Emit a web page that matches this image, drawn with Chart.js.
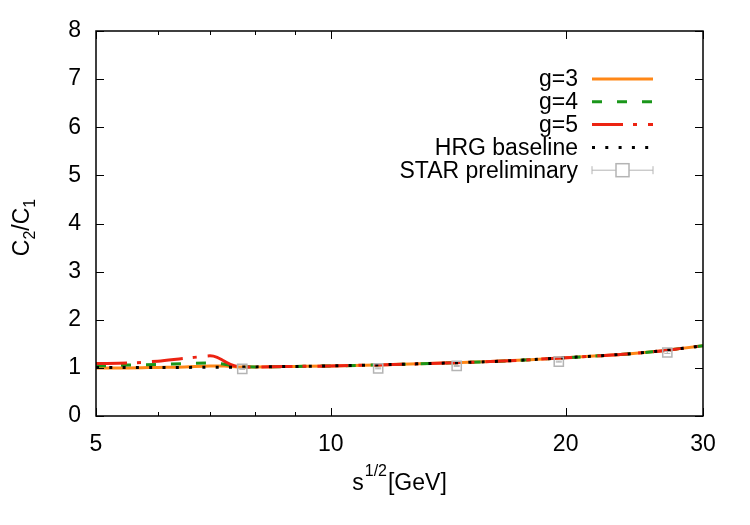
<!DOCTYPE html>
<html>
<head>
<meta charset="utf-8">
<script src="https://cdn.jsdelivr.net/npm/chart.js@4.4.1/dist/chart.umd.min.js"></script>
<style>
  html, body { margin: 0; padding: 0; background: #fff; }
  #wrap { width: 750px; height: 525px; }
</style>
</head>
<body>
<div id="wrap"><canvas id="c2c1" width="750" height="525"></canvas></div>
<script>
// Curve data (sqrt(s) in GeV, C2/C1)
const hrgX = [5, 5.5, 6, 6.5, 7, 7.5, 8, 9, 10, 12, 14, 16, 18, 20, 22, 24, 26, 28, 30];
const hrgY = [1.01, 1.01, 1.01, 1.01, 1.015, 1.015, 1.02, 1.03, 1.04, 1.07, 1.10, 1.13, 1.17, 1.21, 1.25, 1.29, 1.34, 1.40, 1.46];

const g3X = [5, 5.5, 6, 6.5, 7, 7.3, 7.6, 8, 9, 10, 12, 14, 16, 18, 20, 22, 24, 26, 28, 30];
const g3Y = [1.00, 1.00, 1.01, 1.02, 1.04, 1.04, 1.02, 1.02, 1.03, 1.04, 1.07, 1.10, 1.13, 1.17, 1.21, 1.25, 1.29, 1.34, 1.40, 1.46];

const g4X = [5, 5.5, 6, 6.5, 7, 7.2, 7.4, 7.6, 8, 9, 10, 12, 14, 16, 18, 20, 22, 24, 26, 28, 30];
const g4Y = [1.04, 1.06, 1.07, 1.09, 1.10, 1.09, 1.06, 1.03, 1.02, 1.03, 1.04, 1.07, 1.10, 1.13, 1.17, 1.21, 1.25, 1.29, 1.34, 1.40, 1.46];

const g5X = [5, 5.5, 6, 6.5, 6.8, 7, 7.15, 7.3, 7.5, 7.7, 8, 9, 10, 12, 14, 16, 18, 20, 22, 24, 26, 28, 30];
const g5Y = [1.09, 1.10, 1.14, 1.20, 1.23, 1.25, 1.22, 1.14, 1.05, 1.02, 1.02, 1.03, 1.04, 1.07, 1.10, 1.13, 1.17, 1.21, 1.25, 1.29, 1.34, 1.40, 1.46];

// STAR preliminary points
const starX = [7.7, 11.5, 14.5, 19.6, 27];
const starY = [0.98, 0.99, 1.04, 1.13, 1.32];
const starErr = [0.01, 0.01, 0.01, 0.01, 0.02];

// axis ticks
const xTicks = [5, 10, 20, 30];
const xMinor = [6, 7, 8, 9];
const yTicks = [0, 1, 2, 3, 4, 5, 6, 7, 8];

const FONT = '"Liberation Sans", Arial, sans-serif';
const ORANGE = '#ff8717';
const GREEN = '#1a961a';
const RED = '#ec2312';
const GRAY = '#b4b4b4';

function pts(xs, ys) {
    return xs.map((x, i) => ({ x: x, y: ys[i] }));
}

// legend entries drawn by hand (gnuplot style: text on the left, sample on the right)
const legendItems = [
    { label: 'g=3', color: ORANGE, dash: [] },
    { label: 'g=4', color: GREEN, dash: [10, 15] },
    { label: 'g=5', color: RED, dash: [31, 10, 4, 11] },
    { label: 'HRG baseline', color: '#000', dash: [3, 10.3] },
    { label: 'STAR preliminary', star: true }
];

const decorations = {
    id: 'decorations',
    afterDatasetsDraw(chart) {
        const ctx = chart.ctx;
        const a = chart.chartArea;
        const xs = chart.scales.x, ys = chart.scales.y;

        // error bars on STAR points
        ctx.save();
        ctx.strokeStyle = GRAY;
        ctx.lineWidth = 1;
        starX.forEach((x, i) => {
            const px = xs.getPixelForValue(x);
            const top = ys.getPixelForValue(starY[i] + starErr[i]);
            const bot = ys.getPixelForValue(starY[i] - starErr[i]);
            ctx.beginPath();
            ctx.moveTo(px, top); ctx.lineTo(px, bot);
            ctx.moveTo(px - 3, top); ctx.lineTo(px + 3, top);
            ctx.moveTo(px - 3, bot); ctx.lineTo(px + 3, bot);
            ctx.stroke();
        });
        ctx.restore();

        // frame and inward ticks
        ctx.save();
        ctx.strokeStyle = '#000';
        ctx.lineWidth = 1.5;
        ctx.strokeRect(a.left, a.top, a.right - a.left, a.bottom - a.top);
        ctx.lineWidth = 1;
        ctx.beginPath();
        yTicks.forEach(v => {
            const py = Math.round(ys.getPixelForValue(v)) + 0.5;
            ctx.moveTo(a.left, py); ctx.lineTo(a.left + 8, py);
            ctx.moveTo(a.right, py); ctx.lineTo(a.right - 8, py);
        });
        xTicks.forEach(v => {
            const px = Math.round(xs.getPixelForValue(v)) + 0.5;
            ctx.moveTo(px, a.bottom); ctx.lineTo(px, a.bottom - 8);
            ctx.moveTo(px, a.top); ctx.lineTo(px, a.top + 8);
        });
        xMinor.forEach(v => {
            const px = Math.round(xs.getPixelForValue(v)) + 0.5;
            ctx.moveTo(px, a.bottom); ctx.lineTo(px, a.bottom - 4);
            ctx.moveTo(px, a.top); ctx.lineTo(px, a.top + 4);
        });
        ctx.stroke();
        ctx.restore();

        // legend
        ctx.save();
        ctx.font = '23px ' + FONT;
        ctx.textAlign = 'right';
        ctx.textBaseline = 'middle';
        const textRight = 578, x0 = 592, x1 = 653;
        legendItems.forEach((it, i) => {
            const y = 79 + i * 22.8;
            ctx.fillStyle = '#000';
            ctx.fillText(it.label, textRight, y + 1);
            if (it.star) {
                ctx.strokeStyle = GRAY;
                ctx.lineWidth = 1;
                ctx.beginPath();
                ctx.moveTo(x0, y); ctx.lineTo(x1, y);
                ctx.moveTo(x0, y - 4); ctx.lineTo(x0, y + 4);
                ctx.moveTo(x1, y - 4); ctx.lineTo(x1, y + 4);
                ctx.stroke();
                ctx.fillStyle = '#fff';
                ctx.fillRect(616, y - 6.5, 13, 13);
                ctx.lineWidth = 1.5;
                ctx.strokeRect(616, y - 6.5, 13, 13);
            } else {
                ctx.strokeStyle = it.color;
                ctx.lineWidth = 3;
                ctx.setLineDash(it.dash);
                ctx.beginPath();
                ctx.moveTo(x0, y); ctx.lineTo(x1, y);
                ctx.stroke();
                ctx.setLineDash([]);
            }
        });
        ctx.restore();

        // x axis title: s^{1/2}[GeV]
        ctx.save();
        ctx.fillStyle = '#000';
        ctx.textBaseline = 'alphabetic';
        ctx.textAlign = 'left';
        const big = '23px ' + FONT, small = '16px ' + FONT;
        ctx.font = big;
        const wS = ctx.measureText('s').width, wG = ctx.measureText('[GeV]').width;
        ctx.font = small;
        const wSup = ctx.measureText('1/2').width;
        let tx = (a.left + a.right) / 2 - (wS + wSup + 2 + wG) / 2;
        const base = 490;
        ctx.font = big; ctx.fillText('s', tx, base); tx += wS + 1;
        ctx.font = small; ctx.fillText('1/2', tx, base - 14); tx += wSup + 1;
        ctx.font = big; ctx.fillText('[GeV]', tx, base);
        ctx.restore();

        // y axis title: C_2/C_1
        ctx.save();
        ctx.translate(29, (a.top + a.bottom) / 2 + 4);
        ctx.rotate(-Math.PI / 2);
        ctx.fillStyle = '#000';
        ctx.textBaseline = 'alphabetic';
        ctx.textAlign = 'left';
        const parts = [['C', big, 0], ['2', small, 6], ['/C', big, 0], ['1', small, 6]];
        let tw = 0;
        parts.forEach(p => { ctx.font = p[1]; tw += ctx.measureText(p[0]).width; });
        let ty = -tw / 2;
        parts.forEach(p => {
            ctx.font = p[1];
            ctx.fillText(p[0], ty, p[2]);
            ty += ctx.measureText(p[0]).width;
        });
        ctx.restore();
    }
};

const ctx = document.getElementById('c2c1').getContext('2d');
const chart = new Chart(ctx, {
    type: 'line',
    data: {
        datasets: [
            {
                label: 'STAR preliminary',
                data: pts(starX, starY),
                showLine: false,
                pointStyle: 'rect',
                pointRadius: 6.5,
                pointBorderWidth: 1.5,
                pointBorderColor: GRAY,
                pointBackgroundColor: 'rgba(0,0,0,0)',
                order: 0
            },
            {
                label: 'HRG baseline',
                data: pts(hrgX, hrgY),
                borderColor: '#000',
                borderWidth: 3,
                borderDash: [3, 10.3],
                pointRadius: 0,
                cubicInterpolationMode: 'monotone',
                order: 1
            },
            {
                label: 'g=5',
                data: pts(g5X, g5Y),
                borderColor: RED,
                borderWidth: 3,
                borderDash: [31, 10, 4, 11],
                pointRadius: 0,
                cubicInterpolationMode: 'monotone',
                order: 2
            },
            {
                label: 'g=4',
                data: pts(g4X, g4Y),
                borderColor: GREEN,
                borderWidth: 3,
                borderDash: [10, 15],
                pointRadius: 0,
                cubicInterpolationMode: 'monotone',
                order: 3
            },
            {
                label: 'g=3',
                data: pts(g3X, g3Y),
                borderColor: ORANGE,
                borderWidth: 3,
                pointRadius: 0,
                cubicInterpolationMode: 'monotone',
                order: 4
            }
        ]
    },
    options: {
        responsive: false,
        animation: false,
        layout: { padding: { left: 0, right: 47, top: 31, bottom: 0 } },
        plugins: {
            legend: { display: false },
            tooltip: { enabled: false }
        },
        scales: {
            x: {
                type: 'logarithmic',
                min: 5,
                max: 30,
                afterBuildTicks: function(scale) {
                    scale.ticks = xTicks.map(v => ({ value: v, major: true }));
                },
                afterFit: function(scale) { scale.height = 109; },
                grid: { display: false, drawTicks: false },
                border: { display: false },
                ticks: {
                    autoSkip: false,
                    maxRotation: 0,
                    padding: 15,
                    color: '#000',
                    font: { family: FONT, size: 23 },
                    callback: function(value) { return String(value); }
                }
            },
            y: {
                min: 0,
                max: 8,
                afterBuildTicks: function(scale) {
                    scale.ticks = yTicks.map(v => ({ value: v }));
                },
                afterFit: function(scale) { scale.width = 96; },
                grid: { display: false, drawTicks: false },
                border: { display: false },
                ticks: {
                    padding: 15,
                    color: '#000',
                    font: { family: FONT, size: 23 }
                }
            }
        }
    },
    plugins: [decorations]
});
</script>
</body>
</html>
